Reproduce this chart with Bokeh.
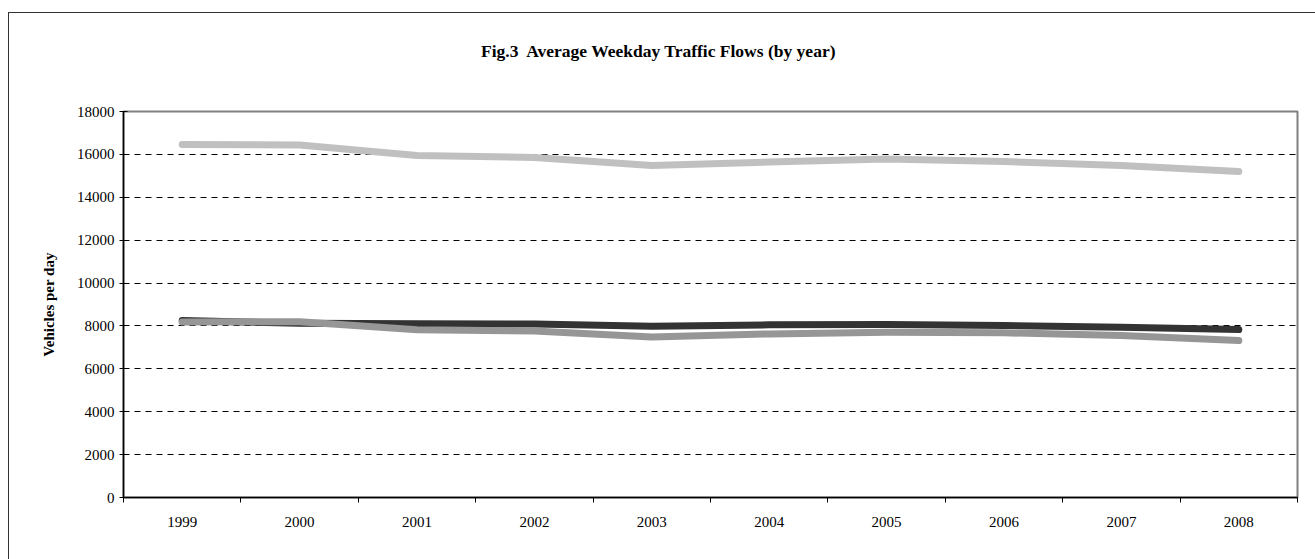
from bokeh.plotting import figure
from bokeh.models import FixedTicker, Range1d, Div
from bokeh.layouts import column
from bokeh.embed import file_html
from bokeh.resources import INLINE

years = ["1999", "2000", "2001", "2002", "2003", "2004", "2005", "2006", "2007", "2008"]
series_light = [16460, 16440, 15950, 15860, 15480, 15640, 15790, 15670, 15480, 15200]
series_dark = [8250, 8120, 8100, 8090, 7990, 8050, 8070, 8020, 7940, 7830]
series_mid = [8180, 8200, 7820, 7760, 7480, 7630, 7710, 7680, 7550, 7320]
y_ticks = [0, 2000, 4000, 6000, 8000, 10000, 12000, 14000, 16000, 18000]
title_text = "Fig.3\u00a0 Average Weekday Traffic Flows (by year)"

xs = [i + 0.5 for i in range(len(years))]

FONT = "Liberation Serif"

title_div = Div(
    text=("<div style=\"padding-left:472px; padding-top:28px; font-family:'Liberation Serif';"
          " font-weight:bold; font-size:17.5px; color:#000000; white-space:pre; line-height:20px;\">"
          + title_text + "</div>"),
    width=1306, height=70, margin=0)

p = figure(width=1306, height=476, output_backend="svg", toolbar_location=None,
           x_range=Range1d(0, len(years)), y_range=Range1d(0, 18000),
           min_border_left=114, min_border_right=18, min_border_top=28, min_border_bottom=62)
p.margin = 0

p.outline_line_color = "#808080"
p.outline_line_width = 2

# lines
p.line(xs, series_dark, line_color="#333333", line_width=7, line_cap="round", line_join="round")
p.line(xs, series_mid, line_color="#969696", line_width=7, line_cap="round", line_join="round")
p.line(xs, series_light, line_color="#C0C0C0", line_width=7, line_cap="round", line_join="round")

# x axis
xt = FixedTicker(ticks=xs, minor_ticks=list(range(len(years) + 1)))
p.xaxis.ticker = xt
p.xaxis.major_label_overrides = {x: y for x, y in zip(xs, years)}
p.xaxis.major_tick_in = 0
p.xaxis.major_tick_out = 0
p.xaxis.minor_tick_in = 0
p.xaxis.minor_tick_out = 5
p.xaxis.minor_tick_line_color = "#000000"
p.xaxis.major_label_standoff = 14
p.xaxis.axis_line_color = "#000000"
p.xaxis.axis_line_width = 1.5
p.xaxis.major_label_text_font = FONT
p.xaxis.major_label_text_font_size = "15px"
p.xaxis.major_label_text_color = "#000000"

# y axis
p.yaxis.ticker = FixedTicker(ticks=y_ticks, minor_ticks=[])
p.yaxis.major_tick_in = 4
p.yaxis.major_tick_out = 4
p.yaxis.major_tick_line_color = "#000000"
p.yaxis.axis_line_color = "#000000"
p.yaxis.axis_line_width = 1.5
p.yaxis.major_label_standoff = 5
p.yaxis.major_label_text_font = FONT
p.yaxis.major_label_text_font_size = "15px"
p.yaxis.major_label_text_color = "#000000"
p.yaxis.axis_label = "Vehicles per day"
p.yaxis.axis_label_text_font = FONT
p.yaxis.axis_label_text_font_size = "15px"
p.yaxis.axis_label_text_font_style = "bold"
p.yaxis.axis_label_text_color = "#000000"
p.yaxis.axis_label_standoff = 17

# grid
p.xgrid.grid_line_color = None
p.ygrid.ticker = FixedTicker(ticks=y_ticks[1:-1])
p.ygrid.grid_line_color = "#000000"
p.ygrid.grid_line_dash = "6 5"
p.ygrid.grid_line_width = 1

layout = column(title_div, p, spacing=0)
layout.styles = {"border-top": "1px solid #333333", "border-left": "1px solid #333333",
                 "margin-top": "12px", "margin-left": "8px"}

open("out.html", "w").write(file_html(layout, INLINE))
